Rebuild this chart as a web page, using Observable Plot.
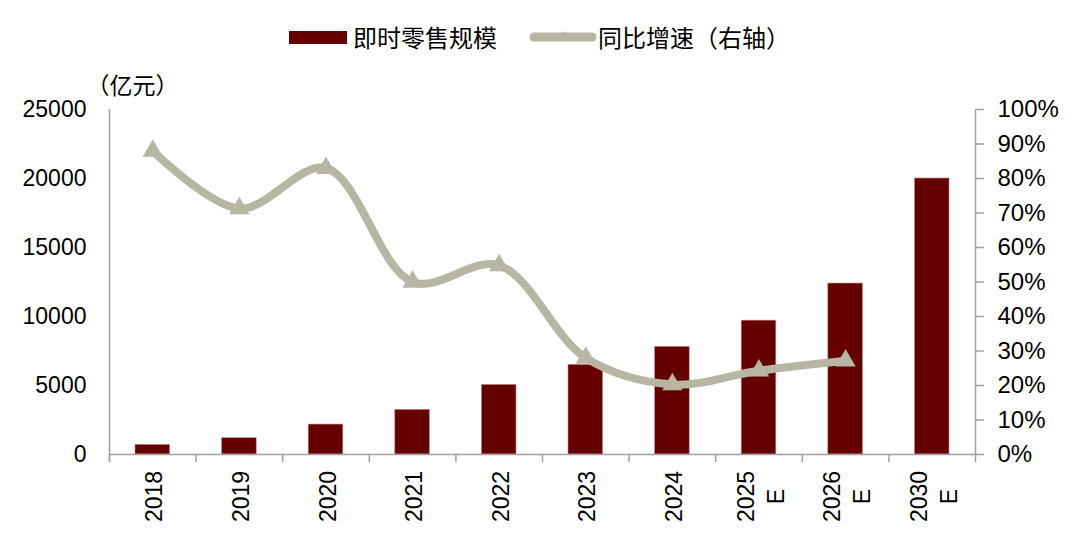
<!DOCTYPE html>
<html>
<head>
<meta charset="utf-8">
<script src="https://cdn.jsdelivr.net/npm/d3@7"></script>
<script src="https://cdn.jsdelivr.net/npm/@observablehq/plot@0.6"></script>
<style>
  body { margin: 0; background: #fff; width: 1080px; height: 538px; overflow: hidden; }
  #wrap { position: relative; width: 1080px; height: 538px; }
  #legend { position: relative; width: 1080px; height: 60px; font-family: "Noto Sans CJK SC", sans-serif; font-size: 24px; color: #000; }
  #legend .item { position: absolute; top: 22px; height: 30px; line-height: 30px; white-space: nowrap; }
  #chart svg { display: block; }
</style>
</head>
<body>
<div id="wrap">
  <div id="legend"></div>
  <div id="chart"></div>
</div>
<script>
// ---- data ----
const categories = ["2018", "2019", "2020", "2021", "2022", "2023", "2024", "2025E", "2026E", "2030E"];
const tickLabels = ["2018", "2019", "2020", "2021", "2022", "2023", "2024", "2025\nE", "2026\nE", "2030\nE"];
const retailScale = [700, 1180, 2170, 3240, 5050, 6500, 7800, 9700, 12390, 20000]; // 亿元
const growthCategories = ["2018", "2019", "2020", "2021", "2022", "2023", "2024", "2025E", "2026E"];
const growthRate = [0.88, 0.713, 0.83, 0.50, 0.548, 0.28, 0.203, 0.243, 0.272];
const leftTicks = [0, 5000, 10000, 15000, 20000, 25000];
const rightTickPct = [0, 0.1, 0.2, 0.3, 0.4, 0.5, 0.6, 0.7, 0.8, 0.9, 1.0];
const seriesNames = ["即时零售规模", "同比增速（右轴）"];
const unitLabel = "（亿元）";

const barColor = "#660000";
const lineColor = "#b7b6a2";
const axisColor = "#a0a0a0";

// ---- legend (HTML, above the SVG) ----
const legend = document.getElementById("legend");
legend.innerHTML = `
  <div class="item" style="left:289px;top:31px;width:58px;height:13px;background:${barColor}"></div>
  <div class="item" style="left:353px">${seriesNames[0]}</div>
  <svg class="item" style="left:528px;top:26px;height:22px" width="70" height="22">
    <line x1="6" y1="11" x2="64" y2="11" stroke="${lineColor}" stroke-width="9" stroke-linecap="round"/>
    <path d="M35,5 L40,13 L30,13 Z" fill="${lineColor}"/>
  </svg>
  <div class="item" style="left:598px">${seriesNames[1]}</div>
`;

// ---- chart ----
const W = 1080, H = 478;
const mL = 109, mR = 105, mT = 49, mB = 84;
const step = (W - mL - mR) / categories.length;
const pctToLeft = 25000; // right axis 100% == left axis 25000

const bars = categories.map((c, i) => ({cat: c, value: retailScale[i], label: tickLabels[i]}));
const growth = growthCategories.map((c, i) => ({cat: c, g: growthRate[i]}));

const font = `"Liberation Sans", Arial, "Noto Sans CJK SC", sans-serif`;

const plot = Plot.plot({
  width: W,
  height: H,
  marginLeft: mL,
  marginRight: mR,
  marginTop: mT,
  marginBottom: mB,
  style: {fontFamily: font, fontSize: "23px", color: "#000", background: "#fff", overflow: "visible"},
  x: {type: "band", domain: categories, paddingInner: 0.6, paddingOuter: 0.3, round: false, axis: null},
  y: {domain: [0, 25000], axis: null},
  marks: [
    // bars
    Plot.barY(bars, {x: "cat", y: "value", fill: barColor, stroke: "#c89090", strokeWidth: 0.6}),
    // bottom axis line
    Plot.ruleY([0], {stroke: axisColor, strokeWidth: 1.5}),
    // category boundary ticks
    Plot.ruleX(categories, {x: d => d, dx: -step / 2, y1: 0, y2: 0, insetBottom: -8, stroke: axisColor, strokeWidth: 1.5}),
    // left axis line (full height) at first boundary
    Plot.ruleX([categories[0]], {x: d => d, dx: -step / 2, y1: 25000, y2: 0, insetBottom: -8, stroke: axisColor, strokeWidth: 1.5}),
    // right axis line at last boundary
    Plot.ruleX([categories[categories.length - 1]], {x: d => d, dx: step / 2, y1: 25000, y2: 0, insetBottom: -8, stroke: axisColor, strokeWidth: 1.5}),
    // left axis labels
    Plot.axisY({ticks: leftTicks, anchor: "left", label: null, tickSize: 0, tickPadding: 23, tickFormat: d => String(d), fontSize: 23}),
    // right axis
    Plot.axisY({ticks: rightTickPct.map(p => p * pctToLeft), anchor: "right", label: null, tickSize: 8, tickPadding: 14,
      stroke: axisColor, strokeWidth: 1.5,
      tickFormat: d => Math.round(d / pctToLeft * 100) + "%", fontSize: 24}),
    // x labels
    Plot.text(bars, {x: "cat", y: 0, text: "label", rotate: -90, dy: 42, textAnchor: "middle", lineAnchor: "middle", lineHeight: 1.3, fontSize: 23, fill: "#000"}),
    // unit label
    Plot.text([unitLabel], {frameAnchor: "top-left", dx: -23, dy: -23, textAnchor: "start", lineAnchor: "middle", fontSize: 23, fontFamily: "Noto Sans CJK SC", fill: "#000"}),
    // growth line
    Plot.line(growth, {x: "cat", y: d => d.g * pctToLeft, curve: "catmull-rom", stroke: lineColor, strokeWidth: 8}),
    Plot.dot(growth, {x: "cat", y: d => d.g * pctToLeft, symbol: "triangle", r: 7.5, fill: lineColor, stroke: "none"})
  ]
});
document.getElementById("chart").appendChild(plot);
</script>
</body>
</html>
